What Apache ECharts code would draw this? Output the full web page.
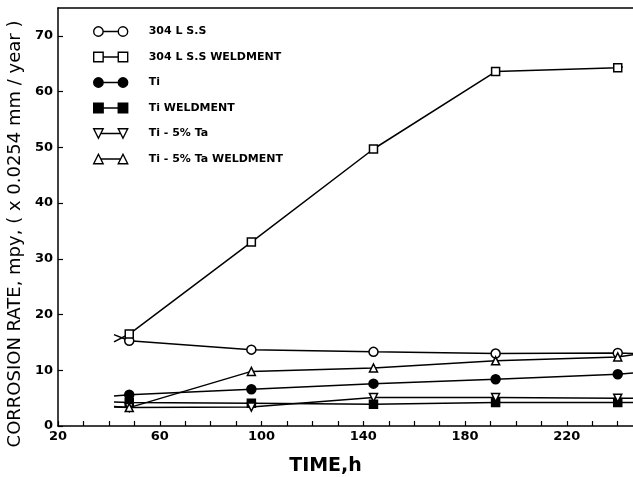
<!DOCTYPE html>
<html>
<head>
<meta charset="utf-8">
<script src="https://cdn.jsdelivr.net/npm/echarts@6/dist/echarts.min.js"></script>
<style>html,body{margin:0;padding:0;background:#fff}#c{width:633px;height:477px}</style>
</head>
<body>
<div id="c"></div>
<script>
// Data
const times = [48, 96, 144, 192, 240];
const seriesNames = ['304 L S.S', '304 L S.S WELDMENT', 'Ti', 'Ti WELDMENT', 'Ti - 5% Ta', 'Ti - 5% Ta WELDMENT'];
const ss304 = [15.3, 13.7, 13.3, 13.0, 13.1];
const ss304Weld = [16.5, 33.0, 49.7, 63.6, 64.3];
const ti = [5.6, 6.6, 7.6, 8.4, 9.3];
const tiWeld = [4.2, 4.1, 3.9, 4.2, 4.2];
const tiTa = [3.3, 3.4, 5.1, 5.1, 5.0];
const tiTaWeld = [3.3, 9.8, 10.4, 11.7, 12.4];
// line continuations drawn beyond the first/last measured points (no markers)
const leadTime = 42;
const leadValues = [16.4, 15.1, 5.4, 4.3, 3.4, 3.5];
const trailTimes = [246, 242, 246, 246, 246, 246];
const trailValues = [13.0, 64.4, 9.5, 4.2, 5.0, 12.8];
const xTicks = [20, 60, 100, 140, 180, 220];
const yTicks = [0, 10, 20, 30, 40, 50, 60, 70];

const allValues = [ss304, ss304Weld, ti, tiWeld, tiTa, tiTaWeld];
const symbols = ['circle', 'rect', 'circle', 'rect', 'triangle', 'triangle'];
const rotations = [0, 0, 0, 0, 180, 0];
const filled = [false, false, true, true, false, false];
const sizes = [9, 8, 9, 8, 8, 8];

const C = 'path://M0,5a5,5 0 1,0 10,0a5,5 0 1,0 -10,0M10,5L26,5M26,5a5,5 0 1,0 10,0a5,5 0 1,0 -10,0';
const S = 'path://M0,0h10v10h-10zM10,5L26,5M26,0h10v10h-10z';
const TD = 'path://M0,0L10,0L5,10ZM7.5,5L28.5,5M26,0L36,0L31,10Z';
const TU = 'path://M0,10L10,10L5,0ZM7.5,5L28.5,5M26,10L36,10L31,0Z';
const icons = [C, S, C, S, TD, TU];

const fontMain = "'DejaVu Sans', sans-serif";

const series = allValues.map((vals, i) => {
  const data = [{ value: [leadTime, leadValues[i]], symbol: 'none' }];
  vals.forEach((v, k) => data.push({ value: [times[k], v] }));
  data.push({ value: [trailTimes[i], trailValues[i]], symbol: 'none' });
  return {
    name: seriesNames[i],
    type: 'line',
    xAxisIndex: 0,
    data: data,
    symbol: symbols[i],
    symbolRotate: rotations[i],
    symbolSize: sizes[i],
    showAllSymbol: true,
    animation: false,
    silent: true,
    z: 2 + i,
    lineStyle: { color: '#000', width: 1.5 },
    itemStyle: { color: filled[i] ? '#000' : '#fff', borderColor: '#000', borderWidth: 1.5, opacity: 1 }
  };
});

const chart = echarts.init(document.getElementById('c'), null, { renderer: 'canvas' });
chart.setOption({
  backgroundColor: '#fff',
  animation: false,
  grid: { left: 58, right: 0, top: 8, bottom: 51, containLabel: false, outerBoundsMode: 'none' },
  legend: {
    orient: 'vertical',
    left: 88,
    top: 21,
    itemWidth: 34,
    itemHeight: 10,
    itemGap: 14.5,
    selectedMode: false,
    data: seriesNames.map((n, i) => ({
      name: n,
      icon: icons[i],
      itemStyle: { color: filled[i] ? '#000' : '#fff', borderColor: '#000', borderWidth: 1.4 }
    })),
    textStyle: { fontFamily: fontMain, fontWeight: 'bold', fontSize: 11, color: '#000', padding: [0, 0, 0, 16] }
  },
  xAxis: [{
    type: 'value',
    min: 20,
    max: 246,
    interval: 10,
    name: 'TIME,h',
    nameLocation: 'middle',
    nameGap: 31,
    nameTextStyle: { fontFamily: fontMain, fontWeight: 'bold', fontSize: 19, color: '#000', padding: [0, 40, 0, 0] },
    axisLine: { show: true, lineStyle: { color: '#000', width: 1.5 } },
    axisTick: { show: true, inside: true, length: 5, lineStyle: { color: '#000', width: 1.2 } },
    splitLine: { show: false },
    axisLabel: {
      showMaxLabel: false,
      margin: 4,
      fontFamily: fontMain, fontWeight: 'bold', fontSize: 13, color: '#000',
      formatter: v => (xTicks.indexOf(v) >= 0 ? String(v) : '')
    }
  }, {
    type: 'value',
    position: 'top',
    min: 20,
    max: 246,
    axisLine: { show: true, lineStyle: { color: '#000', width: 1.5 } },
    axisTick: { show: false },
    axisLabel: { show: false },
    splitLine: { show: false }
  }],
  yAxis: {
    type: 'value',
    min: 0,
    max: 75,
    interval: 10,
    name: 'CORROSION RATE, mpy, ( x 0.0254 mm / year )',
    nameLocation: 'middle',
    nameGap: 27,
    nameTextStyle: { fontFamily: fontMain, fontSize: 18, color: '#000', padding: [0, 34, 0, 0] },
    axisLine: { show: true, lineStyle: { color: '#000', width: 1.5 } },
    axisTick: { show: true, inside: true, length: 5, lineStyle: { color: '#000', width: 1.2 } },
    splitLine: { show: false },
    axisLabel: {
      showMaxLabel: false,
      margin: 5,
      fontFamily: fontMain, fontWeight: 'bold', fontSize: 13, color: '#000',
      formatter: v => (yTicks.indexOf(v) >= 0 ? String(v) : '')
    }
  },
  series: series
});
</script>
</body>
</html>
